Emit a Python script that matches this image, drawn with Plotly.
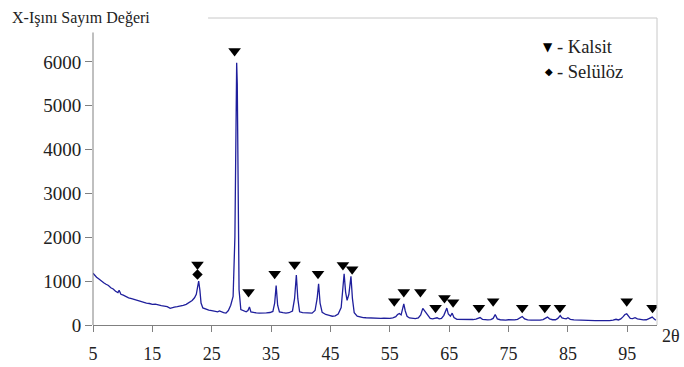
import plotly.graph_objects as go

# --- data ---
two_theta = [5.0, 5.3, 5.6, 6.0, 6.4, 6.8, 7.2, 7.6, 8.0, 8.4, 8.8, 9.2, 9.4, 9.7, 10.1, 10.5, 11.0, 11.5, 12.0, 12.5,
             13.0, 13.5, 14.0, 14.5, 15.0, 15.5, 16.0, 16.5, 17.0, 17.5, 18.0, 18.3, 18.7, 19.2, 19.7, 20.2, 20.7, 21.2,
             21.7, 22.1, 22.4, 22.6, 22.8, 23.0, 23.2, 23.5, 24.0, 24.5, 25.0, 25.5, 26.0, 26.3, 26.7, 27.0, 27.4, 27.8,
             28.2, 28.6, 28.9, 29.1, 29.2, 29.3, 29.45, 29.6, 29.9, 30.3, 30.8, 31.1, 31.35, 31.6, 32.0, 32.5, 33.0,
             33.6, 34.2, 34.8, 35.3, 35.6, 35.85, 36.1, 36.4, 37.0, 37.5, 38.0, 38.6, 38.95, 39.25, 39.5, 39.8, 40.3,
             40.9, 41.4, 41.9, 42.4, 42.75, 43.0, 43.25, 43.6, 44.2, 44.8, 45.3, 45.8, 46.3, 46.8, 47.1, 47.3, 47.55,
             47.8, 48.1, 48.45, 48.7, 49.0, 49.5, 50.0, 50.5, 51.0, 51.5, 52.0, 52.5, 53.0, 53.5, 54.0, 54.5, 55.0,
             55.5, 56.0, 56.3, 56.6, 56.9, 57.1, 57.35, 57.6, 57.9, 58.3, 58.8, 59.3, 59.8, 60.2, 60.55, 60.8, 61.1,
             61.4, 61.8, 62.2, 62.6, 62.95, 63.3, 63.7, 64.1, 64.4, 64.6, 64.85, 65.2, 65.5, 65.8, 66.3, 67.0, 67.5,
             68.0, 68.5, 69.0, 69.5, 69.8, 70.2, 70.6, 71.0, 71.5, 72.0, 72.4, 72.75, 73.1, 73.6, 74.0, 74.5, 75.0,
             75.5, 76.0, 76.5, 77.0, 77.3, 77.7, 78.2, 78.8, 79.3, 79.8, 80.3, 80.8, 81.2, 81.55, 81.9, 82.4, 82.9,
             83.3, 83.7, 84.0, 84.3, 84.7, 85.0, 85.4, 86.0, 86.6, 87.2, 87.8, 88.4, 89.0, 89.6, 90.2, 90.8, 91.4,
             92.0, 92.6, 93.1, 93.5, 93.9, 94.3, 94.6, 94.9, 95.2, 95.5, 95.9, 96.3, 96.7, 97.2, 97.7, 98.2, 98.6,
             98.9, 99.2, 99.5, 99.8]
counts = [1180, 1120, 1090, 1050, 1000, 965, 930, 900, 850, 820, 770, 740, 790, 700, 680, 650, 620, 600, 580, 550,
          540, 520, 500, 490, 470, 475, 450, 440, 430, 420, 380, 400, 410, 420, 430, 450, 470, 510,
          560, 620, 700, 850, 1000, 800, 500, 390, 360, 340, 330, 310, 300, 320, 290, 280, 270, 330,
          450, 650, 2000, 5000, 5980, 5500, 2500, 800, 350, 320, 300, 330, 410, 300, 285, 275, 270,
          265, 275, 285, 310, 500, 900, 450, 300, 280, 270, 280, 320, 600, 1140, 600, 300, 280,
          270, 265, 270, 330, 600, 940, 500, 290, 240, 220, 200, 210, 250, 400, 800, 1170, 750,
          560, 700, 1110, 600, 280, 200, 180, 170, 165, 160, 165, 155, 160, 150, 155, 145, 150,
          165, 190, 240, 260, 230, 330, 480, 320, 200, 160, 150, 145, 160, 230, 380, 330, 280,
          200, 150, 140, 150, 165, 140, 150, 220, 320, 385, 250, 200, 270, 170, 130, 125, 120,
          130, 120, 125, 135, 150, 170, 130, 120, 115, 125, 150, 240, 140, 120, 115, 110, 120,
          110, 115, 130, 165, 195, 140, 115, 110, 105, 115, 110, 125, 160, 180, 140, 120, 120,
          150, 215, 160, 150, 140, 165, 130, 115, 110, 105, 108, 100, 105, 100, 102, 98, 105,
          100, 110, 130, 115, 140, 190, 240, 255, 190, 150, 145, 165, 140, 120, 115, 120, 140,
          170, 180, 140, 110]

kalsit_x = [22.6, 28.85, 31.2, 35.6, 38.95, 42.9, 47.1, 48.65, 55.75, 57.35, 60.15, 62.7, 64.2, 65.65,
            70.0, 72.4, 77.3, 81.1, 83.65, 94.9, 99.25]
kalsit_y = [1380, 6250, 750, 1170, 1380, 1170, 1370, 1270, 540, 750, 750, 395, 615, 520,
            395, 540, 395, 395, 395, 540, 395]
selulose_x = [22.6]
selulose_y = [1150]

x_ticks = [5, 15, 25, 35, 45, 55, 65, 75, 85, 95]
y_ticks = [0, 1000, 2000, 3000, 4000, 5000, 6000]

SERIF = "Liberation Serif"
TXT = "#222222"

fig = go.Figure()
fig.add_trace(go.Scatter(x=two_theta, y=counts, mode="lines",
                         line=dict(color="#1f1f9c", width=1.3), showlegend=False, hoverinfo="skip"))
fig.add_trace(go.Scatter(x=kalsit_x, y=kalsit_y, mode="markers",
                         marker=dict(symbol="triangle-down", size=11, color="black"), showlegend=False))
fig.add_trace(go.Scatter(x=selulose_x, y=selulose_y, mode="markers",
                         marker=dict(symbol="diamond", size=8, color="black"), showlegend=False))

fig.update_layout(
    width=684, height=367,
    margin=dict(l=93, r=27, t=18, b=42, autoexpand=False),
    paper_bgcolor="white", plot_bgcolor="white",
    font=dict(family=SERIF, size=15, color=TXT),
    xaxis=dict(range=[5, 100], tickvals=x_ticks, ticktext=[str(v) for v in x_ticks],
               automargin=False,
               showgrid=False, zeroline=False, showline=True, linecolor="#808080", linewidth=1,
               ticks="outside", ticklen=6, tickcolor="#808080", ticklabelstandoff=6,
               tickfont=dict(family=SERIF, size=18, color=TXT)),
    yaxis=dict(range=[0, 7000], tickvals=y_ticks, ticktext=[str(v) for v in y_ticks],
               automargin=False,
               showgrid=False, zeroline=False, showline=False,
               ticks="outside", ticklen=7, tickcolor="#808080",
               tickfont=dict(family=SERIF, size=19, color=TXT)),
)

# y axis line (stops below the title) and light frame on top/right
fig.add_shape(type="line", xref="paper", yref="y", x0=0, x1=0, y0=0, y1=6670,
              line=dict(color="#808080", width=1))
fig.add_shape(type="line", xref="paper", yref="paper", x0=0.204, x1=1, y0=1, y1=1,
              line=dict(color="#c8c8c8", width=1))
fig.add_shape(type="line", xref="paper", yref="paper", x0=1, x1=1, y0=0, y1=1,
              line=dict(color="#c8c8c8", width=1))

# axis titles
fig.add_annotation(text="X-Işını Sayım Değeri", xref="paper", yref="paper",
                   x=-0.148, y=1.0, xanchor="left", yanchor="middle", showarrow=False,
                   font=dict(family=SERIF, size=16, color=TXT))
fig.add_annotation(text="2θ", xref="paper", yref="paper",
                   x=1.006, y=-0.035, xanchor="left", yanchor="middle", showarrow=False,
                   font=dict(family=SERIF, size=18, color=TXT))

# legend
fig.add_annotation(text="▼", xref="paper", yref="paper", x=0.806, y=0.905,
                   xanchor="center", yanchor="middle", showarrow=False,
                   font=dict(family="DejaVu Sans", size=12, color="black"))
fig.add_annotation(text="- Kalsit", xref="paper", yref="paper", x=0.820, y=0.905,
                   xanchor="left", yanchor="middle", showarrow=False,
                   font=dict(family=SERIF, size=18.5, color=TXT))
fig.add_annotation(text="◆", xref="paper", yref="paper", x=0.808, y=0.825,
                   xanchor="center", yanchor="middle", showarrow=False,
                   font=dict(family="DejaVu Sans", size=10, color="black"))
fig.add_annotation(text="- Selülöz", xref="paper", yref="paper", x=0.820, y=0.825,
                   xanchor="left", yanchor="middle", showarrow=False,
                   font=dict(family=SERIF, size=18.5, color=TXT))

fig.write_html("out.html")
